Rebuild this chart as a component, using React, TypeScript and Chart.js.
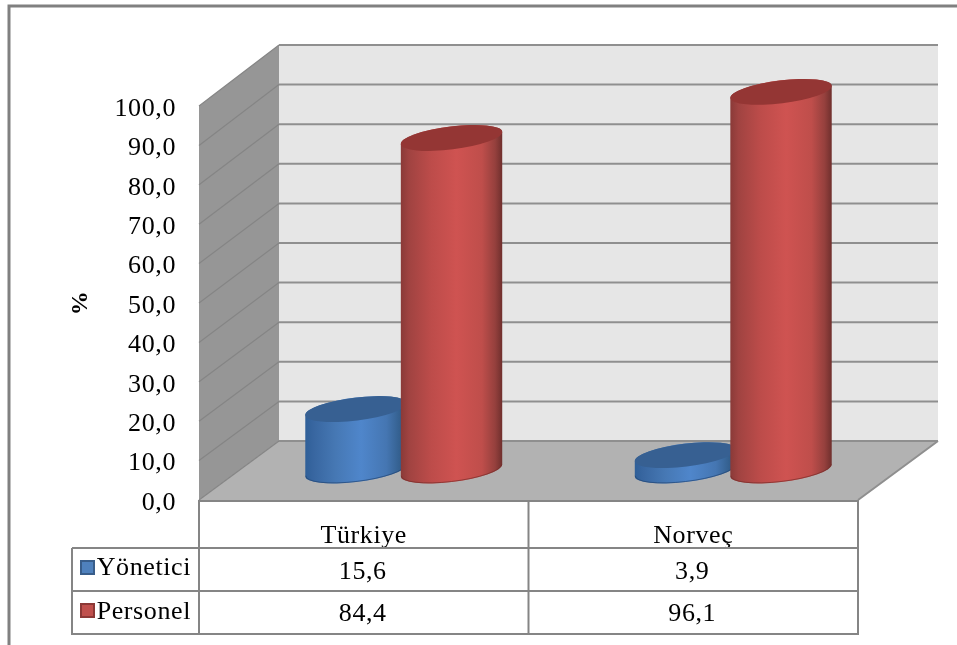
import React, { useEffect, useRef } from "react";
import { Chart, registerables } from "chart.js";

Chart.register(...registerables);

const categories = ["Türkiye", "Norveç"];
const seriesNames = ["Yönetici", "Personel"];
const yoneticiValues = [15.6, 3.9];
const personelValues = [84.4, 96.1];

const FONT = '"Liberation Serif", serif';
const comma = (v: number) => v.toFixed(1).replace(".", ",");

// Oblique projection of the box: how far the back wall sits from the front plane.
const DEPTH_X = 80;
const DEPTH_Y_BOTTOM = 59;
const BACK_HEIGHT = 396;

const GRID = "#8f8f8f";
const TABLE_LINE = "#858585";

type Shade = { stops: [number, string][]; top: string; rim: string; fill: string; edge: string };
const shades: Shade[] = [
  {
    stops: [[0, "#2f5f98"], [0.08, "#3866a0"], [0.3, "#4678b4"], [0.55, "#4f86cb"], [0.8, "#4576b2"], [0.93, "#34608f"], [1, "#2a5280"]],
    top: "#376092",
    rim: "rgba(35,70,115,0.7)",
    fill: "#4f81bd",
    edge: "#385d8a",
  },
  {
    stops: [[0, "#8a3a38"], [0.08, "#a04341"], [0.3, "#bd4c4a"], [0.55, "#cf5351"], [0.8, "#bf4e4b"], [0.93, "#95403d"], [1, "#6f2f2d"]],
    top: "#943634",
    rim: "rgba(120,45,43,0.7)",
    fill: "#c0504d",
    edge: "#8c3836",
  },
];

function drawCylinder(ctx: CanvasRenderingContext2D, cx: number, baseY: number, topY: number, halfW: number, s: Shade) {
  const a = halfW * 1.008;
  const b = a * 0.224;
  const rot = (-7 * Math.PI) / 180;
  const t = Math.atan((-b / a) * Math.tan(rot));
  const ex = a * Math.cos(t) * Math.cos(rot) - b * Math.sin(t) * Math.sin(rot);
  const ey = a * Math.cos(t) * Math.sin(rot) + b * Math.sin(t) * Math.cos(rot);

  const g = ctx.createLinearGradient(cx - ex, 0, cx + ex, 0);
  s.stops.forEach(([o, c]) => g.addColorStop(o, c));

  ctx.beginPath();
  ctx.ellipse(cx, baseY, a, b, rot, t, t + Math.PI);
  ctx.lineTo(cx - ex, topY - ey);
  ctx.ellipse(cx, topY, a, b, rot, t + Math.PI, t + 2 * Math.PI);
  ctx.closePath();
  ctx.fillStyle = g;
  ctx.fill();

  // Thin darker rim along the curved lower edge
  ctx.beginPath();
  ctx.ellipse(cx, baseY - 0.5, a - 0.5, b, rot, t, t + Math.PI);
  ctx.strokeStyle = s.rim;
  ctx.lineWidth = 1;
  ctx.stroke();

  ctx.beginPath();
  ctx.ellipse(cx, topY, a, b, rot, 0, 2 * Math.PI);
  ctx.fillStyle = s.top;
  ctx.fill();
}

const box3d = {
  id: "box3d",
  beforeDraw(chart: any) {
    // Slightly open tracking for every label on the canvas
    chart.ctx.letterSpacing = "0.6px";
  },
  beforeDatasetsDraw(chart: any) {
    const { ctx, chartArea: ca, scales } = chart;
    const y = scales.y;
    const { left, right, top, bottom } = ca;
    const backBottom = bottom - DEPTH_Y_BOTTOM;
    const backTop = backBottom - BACK_HEIGHT;
    const backLeft = left + DEPTH_X;
    const backRight = right + DEPTH_X;
    const backY = (v: number) => backBottom - (v / 100) * BACK_HEIGHT;

    ctx.save();
    ctx.fillStyle = "#e6e6e6";
    ctx.fillRect(backLeft, backTop, backRight - backLeft, BACK_HEIGHT);

    ctx.fillStyle = "#969696";
    ctx.beginPath();
    ctx.moveTo(left, top);
    ctx.lineTo(backLeft, backTop);
    ctx.lineTo(backLeft, backBottom);
    ctx.lineTo(left, bottom);
    ctx.closePath();
    ctx.fill();

    ctx.fillStyle = "#b2b2b2";
    ctx.beginPath();
    ctx.moveTo(left, bottom);
    ctx.lineTo(backLeft, backBottom);
    ctx.lineTo(backRight, backBottom);
    ctx.lineTo(right, bottom);
    ctx.closePath();
    ctx.fill();

    y.ticks.forEach((tk: any) => {
      const fy = y.getPixelForValue(tk.value);
      const by = backY(tk.value);
      ctx.strokeStyle = "#858585";
      ctx.lineWidth = 1.2;
      ctx.beginPath();
      ctx.moveTo(left, fy);
      ctx.lineTo(backLeft, by);
      ctx.stroke();
      ctx.strokeStyle = GRID;
      ctx.lineWidth = 2;
      ctx.beginPath();
      ctx.moveTo(backLeft, by);
      ctx.lineTo(backRight, by);
      if (tk.value === 0) {
        ctx.moveTo(backRight, by);
        ctx.lineTo(right, bottom);
      }
      ctx.stroke();
    });
    ctx.restore();
  },
  beforeDatasetDraw() {
    return false;
  },
  afterDatasetsDraw(chart: any) {
    const { ctx, scales } = chart;
    const base = scales.y.getPixelForValue(0);
    const mid = DEPTH_Y_BOTTOM / 2;
    categories.forEach((_, i) => {
      seriesNames.forEach((__, d) => {
        const bar = chart.getDatasetMeta(d).data[i];
        drawCylinder(ctx, bar.x + DEPTH_X / 2, base - mid, bar.y - mid, bar.width * 0.53, shades[d]);
      });
    });
  },
  afterDraw(chart: any) {
    const { ctx, chartArea: ca, scales, width, height } = chart;
    const x = scales.x;
    const { left, right, bottom } = ca;
    const rows = [548, 591, 634];
    const tableLeft = 72;
    const mid = x.getPixelForValue(0) + (x.getPixelForValue(1) - x.getPixelForValue(0)) / 2;

    ctx.save();
    // Outer frame, open on the right and at the bottom
    ctx.strokeStyle = "#808080";
    ctx.lineWidth = 3;
    ctx.beginPath();
    ctx.moveTo(9, height);
    ctx.lineTo(9, 6);
    ctx.lineTo(width, 6);
    ctx.stroke();

    // Data table under the plot
    ctx.strokeStyle = TABLE_LINE;
    ctx.lineWidth = 2;
    ctx.beginPath();
    ctx.moveTo(left, bottom + 1);
    ctx.lineTo(right, bottom + 1);
    [left, mid, right].forEach((vx) => {
      ctx.moveTo(vx, bottom);
      ctx.lineTo(vx, rows[2] + 1);
    });
    ctx.moveTo(tableLeft, rows[0]);
    ctx.lineTo(tableLeft, rows[2] + 1);
    rows.forEach((ry) => {
      ctx.moveTo(tableLeft, ry);
      ctx.lineTo(right + 1, ry);
    });
    ctx.stroke();

    ctx.font = `26px ${FONT}`;
    ctx.fillStyle = "#000";
    ctx.textBaseline = "alphabetic";
    [yoneticiValues, personelValues].forEach((vals, d) => {
      const rowBase = rows[d] + 31;
      ctx.textAlign = "right";
      ctx.fillText(seriesNames[d], left - 8, rowBase - 4 + d);
      const s = shades[d];
      const sy = rows[d] + 12;
      ctx.fillStyle = s.fill;
      ctx.strokeStyle = s.edge;
      ctx.lineWidth = 2;
      ctx.fillRect(81, sy + 1, 13, 13);
      ctx.strokeRect(81, sy + 1, 13, 13);
      ctx.fillStyle = "#000";
      ctx.textAlign = "center";
      vals.forEach((v, i) => ctx.fillText(comma(v), x.getPixelForValue(i) - 1, rowBase - (d === 1 ? 1 : 0)));
    });
    ctx.restore();
  },
};

export default function App() {
  const ref = useRef<HTMLCanvasElement>(null);

  useEffect(() => {
    const chart = new Chart(ref.current!, {
      type: "bar",
      data: {
        labels: categories,
        datasets: [
          { label: seriesNames[0], data: yoneticiValues, backgroundColor: shades[0].fill },
          { label: seriesNames[1], data: personelValues, backgroundColor: shades[1].fill },
        ],
      },
      plugins: [box3d],
      options: {
        animation: false,
        responsive: false,
        layout: { padding: { top: 106, right: 99, left: 0, bottom: 0 } },
        datasets: { bar: { categoryPercentage: 0.58, barPercentage: 1 } },
        plugins: { legend: { display: false }, tooltip: { enabled: false } },
        scales: {
          x: {
            type: "category",
            grid: { display: false, drawTicks: false },
            border: { display: false },
            afterFit: (s: any) => {
              s.height = 145;
            },
            ticks: { padding: 21, color: "#000", font: { family: FONT, size: 26 }, maxRotation: 0 },
          },
          y: {
            min: 0,
            max: 100,
            grid: { display: false, drawTicks: false },
            border: { display: false },
            afterFit: (s: any) => {
              s.width = 199;
            },
            title: {
              display: true,
              text: "%",
              color: "#000",
              font: { family: FONT, size: 24, weight: "bold" },
              padding: { top: 66, bottom: 0 },
            },
            ticks: {
              stepSize: 10,
              padding: 23,
              labelOffset: 3,
              color: "#000",
              font: { family: FONT, size: 26 },
              callback: (v: any) => comma(Number(v)),
            },
          },
        },
      },
    } as any);
    return () => chart.destroy();
  }, []);

  return (
    <div style={{ position: "fixed", left: 0, top: 0, width: 957, height: 645, overflow: "hidden", background: "#fff" }}>
      <canvas ref={ref} width={957} height={645} style={{ display: "block" }} />
    </div>
  );
}
